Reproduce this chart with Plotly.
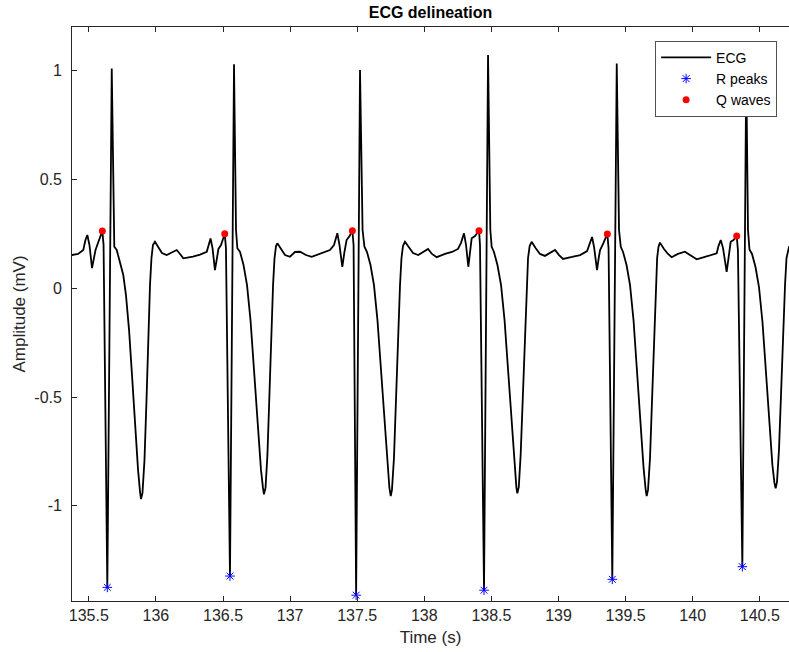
import plotly.graph_objects as go

# ECG trace (time in s, amplitude in mV)
ecg_t = [
    135.373, 135.420, 135.459, 135.475, 135.489, 135.505, 135.524, 135.539, 135.550, 135.571,
    135.587, 135.601, 135.610, 135.638, 135.671, 135.684, 135.690, 135.708, 135.732, 135.757,
    135.777, 135.800, 135.822, 135.844, 135.867, 135.882, 135.889, 135.900, 135.915, 135.930,
    135.945, 135.956, 135.967, 135.978, 135.993, 136.015, 136.045, 136.080, 136.113, 136.155,
    136.180, 136.204, 136.276, 136.329, 136.379, 136.392, 136.407, 136.422, 136.440, 136.455,
    136.466, 136.485, 136.500, 136.513, 136.522, 136.552, 136.582, 136.597, 136.607, 136.627,
    136.653, 136.679, 136.705, 136.731, 136.757, 136.783, 136.798, 136.805, 136.817, 136.831,
    136.846, 136.861, 136.873, 136.884, 136.895, 136.905, 136.932, 136.962, 136.999, 137.036,
    137.074, 137.118, 137.161, 137.223, 137.297, 137.327, 137.352, 137.368, 137.389, 137.405,
    137.421, 137.443, 137.464, 137.473, 137.492, 137.521, 137.540, 137.554, 137.573, 137.599,
    137.625, 137.651, 137.677, 137.703, 137.725, 137.740, 137.750, 137.759, 137.774, 137.789,
    137.804, 137.819, 137.830, 137.841, 137.856, 137.886, 137.916, 137.955, 137.998, 138.028,
    138.057, 138.092, 138.154, 138.206, 138.251, 138.273, 138.296, 138.311, 138.328, 138.341,
    138.353, 138.378, 138.408, 138.415, 138.445, 138.475, 138.492, 138.502, 138.519, 138.545,
    138.572, 138.598, 138.624, 138.650, 138.672, 138.686, 138.693, 138.704, 138.718, 138.733,
    138.748, 138.762, 138.773, 138.785, 138.800, 138.829, 138.862, 138.899, 138.937, 138.974,
    139.004, 139.034, 139.101, 139.161, 139.213, 139.231, 139.250, 139.265, 139.287, 139.302,
    139.310, 139.332, 139.351, 139.364, 139.373, 139.401, 139.434, 139.451, 139.464, 139.481,
    139.507, 139.533, 139.559, 139.585, 139.611, 139.634, 139.649, 139.657, 139.667, 139.682,
    139.697, 139.712, 139.725, 139.735, 139.745, 139.756, 139.786, 139.816, 139.843, 139.890,
    139.942, 139.980, 140.030, 140.091, 140.144, 140.179, 140.192, 140.209, 140.226, 140.253,
    140.267, 140.283, 140.304, 140.328, 140.337, 140.370, 140.399, 140.412, 140.423, 140.442,
    140.468, 140.494, 140.520, 140.546, 140.572, 140.594, 140.609, 140.618, 140.628, 140.643,
    140.658, 140.673, 140.688, 140.699, 140.718, 140.740,
]
ecg_v = [
    0.153, 0.158, 0.176, 0.222, 0.245, 0.199, 0.093, 0.139, 0.176, 0.213,
    0.236, 0.263, 0.200, -1.375, 1.011, 0.268, 0.191, 0.176, 0.121, 0.061,
    -0.031, -0.192, -0.399, -0.629, -0.835, -0.937, -0.969, -0.941, -0.789, -0.514,
    -0.192, 0.015, 0.139, 0.199, 0.214, 0.194, 0.162, 0.153, 0.162, 0.176,
    0.158, 0.138, 0.146, 0.155, 0.168, 0.199, 0.229, 0.185, 0.084, 0.139,
    0.181, 0.199, 0.222, 0.251, 0.185, -1.323, 1.030, 0.268, 0.184, 0.167,
    0.107, 0.015, -0.146, -0.376, -0.606, -0.835, -0.918, -0.947, -0.918, -0.766,
    -0.491, -0.192, 0.015, 0.139, 0.194, 0.207, 0.181, 0.153, 0.145, 0.167,
    0.168, 0.153, 0.145, 0.158, 0.176, 0.199, 0.253, 0.199, 0.099, 0.167,
    0.222, 0.240, 0.265, 0.199, -1.411, 1.004, 0.268, 0.191, 0.167, 0.107,
    0.015, -0.146, -0.385, -0.629, -0.826, -0.918, -0.955, -0.927, -0.780, -0.514,
    -0.215, 0.015, 0.139, 0.194, 0.214, 0.185, 0.162, 0.153, 0.171, 0.181,
    0.158, 0.143, 0.158, 0.167, 0.181, 0.208, 0.253, 0.199, 0.099, 0.167,
    0.230, 0.240, 0.265, 0.199, -1.388, 1.073, 0.268, 0.191, 0.167, 0.107,
    0.015, -0.146, -0.385, -0.629, -0.817, -0.914, -0.943, -0.914, -0.766, -0.504,
    -0.206, 0.015, 0.139, 0.194, 0.214, 0.185, 0.158, 0.149, 0.162, 0.176,
    0.153, 0.135, 0.144, 0.153, 0.171, 0.208, 0.236, 0.190, 0.084, 0.149,
    0.176, 0.204, 0.231, 0.250, 0.185, -1.338, 1.034, 0.268, 0.191, 0.167,
    0.107, 0.015, -0.146, -0.385, -0.629, -0.826, -0.923, -0.955, -0.927, -0.780,
    -0.514, -0.215, 0.015, 0.139, 0.190, 0.210, 0.181, 0.158, 0.143, 0.158,
    0.168, 0.153, 0.133, 0.144, 0.153, 0.161, 0.194, 0.222, 0.185, 0.076,
    0.139, 0.214, 0.222, 0.240, 0.176, -1.280, 0.994, 0.268, 0.179, 0.158,
    0.098, 0.006, -0.155, -0.385, -0.629, -0.813, -0.895, -0.920, -0.891, -0.743,
    -0.491, -0.192, 0.015, 0.139, 0.191, 0.200,
]

# detected R peaks (negative deflections)
r_t = [135.638, 136.552, 137.492, 138.445, 139.401, 140.370]
r_v = [-1.375, -1.323, -1.411, -1.388, -1.338, -1.280]

# detected Q waves
q_t = [135.601, 136.513, 137.464, 138.408, 139.364, 140.328]
q_v = [0.263, 0.251, 0.265, 0.265, 0.250, 0.240]

x_ticks = [135.5, 136, 136.5, 137, 137.5, 138, 138.5, 139, 139.5, 140, 140.5]
x_labels = ["135.5", "136", "136.5", "137", "137.5", "138", "138.5", "139", "139.5", "140", "140.5"]
y_ticks = [-1, -0.5, 0, 0.5, 1]
y_labels = ["-1", "-0.5", "0", "0.5", "1"]

FONT = "Helvetica, 'Liberation Sans', Arial, sans-serif"
AX = "#262626"

fig = go.Figure()
fig.add_trace(go.Scatter(x=ecg_t, y=ecg_v, mode="lines", name="ECG",
                         line=dict(color="black", width=1.8)))
fig.add_trace(go.Scatter(x=r_t, y=r_v, mode="markers", name="R peaks",
                         marker=dict(symbol="asterisk-open", size=8, color="#0000ff",
                                     line=dict(color="#0000ff", width=1))))
fig.add_trace(go.Scatter(x=q_t, y=q_v, mode="markers", name="Q waves",
                         marker=dict(symbol="circle", size=7, color="#ff0000",
                                     line=dict(width=0))))

fig.update_layout(
    width=789, height=652,
    margin=dict(l=72, r=0, t=27, b=51, autoexpand=False),
    paper_bgcolor="white", plot_bgcolor="white",
    font=dict(family=FONT, color=AX, size=16),
    title=dict(text="<b>ECG delineation</b>", x=0.5, xref="paper",
               y=1 - 12 / 652, yref="container", yanchor="middle", xanchor="center",
               font=dict(family=FONT, size=16, color="black")),
    showlegend=True,
    legend=dict(x=0.9837, xanchor="right", y=0.9756, yanchor="top",
                bgcolor="white", bordercolor=AX, borderwidth=0.8,
                font=dict(family=FONT, size=14, color="black"),
                itemwidth=50, tracegroupgap=0),
)
fig.update_xaxes(range=[135.3748, 140.7176], tickvals=x_ticks, ticktext=x_labels,
                 ticks="inside", ticklen=5, tickcolor=AX, tickwidth=0.8,
                 showline=True, linecolor=AX, linewidth=0.8, mirror="ticks",
                 showgrid=False, zeroline=False, automargin=False,
                 tickfont=dict(family=FONT, size=16, color=AX),
                 title=dict(text="Time (s)", standoff=8,
                            font=dict(family=FONT, size=17, color=AX)))
fig.update_yaxes(range=[-1.4377, 1.2014], tickvals=y_ticks, ticktext=y_labels,
                 ticks="inside", ticklen=5, tickcolor=AX, tickwidth=0.8,
                 showline=True, linecolor=AX, linewidth=0.8, mirror=False,
                 showgrid=False, zeroline=False, ticklabelstandoff=6, automargin=False,
                 tickfont=dict(family=FONT, size=16, color=AX),
                 title=dict(text="Amplitude (mV)", standoff=4,
                            font=dict(family=FONT, size=17, color=AX)))

fig.write_html("out.html", config={"displayModeBar": False},
               post_script="document.body.style.margin='0';")
